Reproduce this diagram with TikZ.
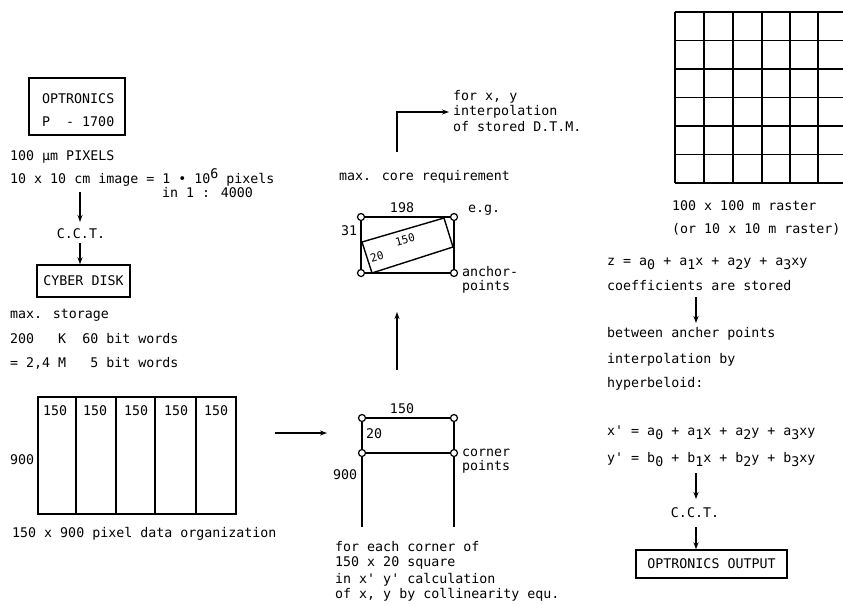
\documentclass[tikz,border=0pt]{standalone}
\usepackage{fontspec}
\usepackage{graphicx}
\newfontfamily\mono{DejaVu Sans Mono}
\usetikzlibrary{arrows.meta}
\newcommand\sbs[1]{\raisebox{-4pt}{#1}}
\newcommand\sps[1]{\raisebox{5pt}{#1}}
\begin{document}
\begin{tikzpicture}[x=1pt,y=-1pt,
  txt/.style={anchor=base west,inner sep=0pt,font=\mono\fontsize{13.3}{16}\selectfont},
  ctxt/.style={txt,anchor=base},
  rtxt/.style={inner sep=0pt,anchor=center,rotate=16,font=\mono\fontsize{11}{13}\selectfont},
  ln/.style={line width=1.4pt},
  arr/.style={line width=1.3pt,-{Stealth[length=7pt,width=5pt]}},
  boxn/.style={draw,line width=1.5pt,inner sep=0pt,font=\mono\fontsize{13.3}{16}\selectfont},
  pnt/.style={circle,draw,fill=white,line width=1.2pt,inner sep=0pt,minimum size=7pt}]
\useasboundingbox (0,0) rectangle (843,603);

% ---- left column
\node[boxn,minimum width=96pt,minimum height=57pt] (opt) at (77,106.5) {};
\node[txt] (opt1) at (42,103) {OPTRONICS};
\node[txt] (opt2) at (42,126) {P\ \ - 1700};
\node[txt] (px) at (10,160) {100 µm PIXELS};
\node[txt] (img) at (10,183) {10 x 10 cm image = 1 • 10\sps{6} pixels};
\node[txt] (scale) at (162,197) {in 1 : 4000};
\coordinate (a1s) at (80,192);
\coordinate (a1e) at (80,222);
\draw[arr] (a1s) -- (a1e);
\node[ctxt] (cct1) at (81,238) {C.C.T.};
\node[boxn,minimum width=93pt,minimum height=32pt] (cyb) at (83.5,281) {CYBER DISK};
\coordinate (a2s) at (80,243);
\draw[arr] (a2s) -- (a2s |- cyb.north);
\node[txt] (ms1) at (10,318) {max. storage};
\node[txt] (ms2) at (10,343) {200\ \ \ K\ \ 60 bit words};
\node[txt] (ms3) at (10,367) {= 2,4 M\ \ \ 5 bit words};

% table
\node[draw,line width=1.5pt,inner sep=0pt,minimum width=198pt,minimum height=117pt] (tbl) at (137,455.5) {};
\foreach \x in {76,116,155,196} \draw[line width=1.4pt] (\x,397) -- (\x,514);
\foreach \x in {43,83,124,164,204} \node[txt] at (\x,415) {150};
\node[txt] (t900) at (10,464) {900};
\node[txt] (tcap) at (12,537) {150 x 900 pixel data organization};

\coordinate (h1) at (275,433);
\coordinate (h2) at (327,433);
\draw[arr] (h1) -- (h2);

% ---- corner diagram
\node[pnt] (c1) at (362,418) {};
\node[pnt] (c2) at (454,418) {};
\node[pnt] (c3) at (362,453) {};
\node[pnt] (c4) at (454,453) {};
\coordinate (c5) at (362,527);
\coordinate (c6) at (454,527);
\draw[ln] (c1) -- (c2) (c3) -- (c4) (c1) -- (c3) (c2) -- (c4) (c3) -- (c5) (c4) -- (c6);
\node[ctxt] (l150) at (402,413) {150};
\node[txt] (l20) at (366,438) {20};
\node[txt] (l900) at (333,479) {900};
\node[txt] (cor1) at (462,456) {corner};
\node[txt] (cor2) at (462,470) {points};
\node[txt] (b1) at (335,551) {for each corner of};
\node[txt] (b2) at (335,566) {150 x 20 square};
\node[txt] (b3) at (335,583) {in x' y' calculation};
\node[txt] (b4) at (335,598) {of x, y by collinearity equ.};

\coordinate (u1) at (397,370);
\coordinate (u2) at (397,312);
\draw[arr] (u1) -- (u2);

% ---- anchor diagram
\node[pnt] (d1) at (361,217) {};
\node[pnt] (d2) at (454,217) {};
\node[pnt] (d3) at (361,273) {};
\node[pnt] (d4) at (454,273) {};
\draw[ln] (d1) -- (d2) -- (d4) -- (d3) -- (d1);
\draw[ln] (362,242) -- (444,218) -- (453,247) -- (372,273) -- cycle;
\node[rtxt] (r150) at (405,240) {150};
\node[rtxt] (r20) at (377,256.5) {20};
\node[ctxt] (l198) at (402,212) {198};
\node[txt] (l31) at (341,235) {31};
\node[txt] (eg) at (468,212) {e.g.};
\node[txt] (an1) at (462,276) {anchor-};
\node[txt] (an2) at (462,290) {points};
\node[txt] (core) at (339,180) {max. core requirement};

\coordinate (k1) at (397,152);
\coordinate (k2) at (397,112);
\coordinate (k3) at (449,112);
\draw[arr] (k1) -- (k2) -- (k3);
\node[txt] (f1) at (453,100) {for x, y};
\node[txt] (f2) at (453,115) {interpolation};
\node[txt] (f3) at (453,131) {of stored D.T.M.};

% ---- grid
\foreach \y in {12,40.5,69,97.5,126,154.5,183} \draw[line width=1.4pt] (675,\y) -- (843,\y);
\foreach \x in {675,704,733,762,790,818} \draw[line width=1.4pt] (\x,12) -- (\x,183);
\node[txt] (r1) at (672,210) {100 x 100 m raster};
\node[txt] (r2) at (672,233) {(or 10 x 10 m raster)};

% ---- right column
\node[txt] (z) at (607,265) {z = a\sbs{0} + a\sbs{1}x + a\sbs{2}y + a\sbs{3}xy};
\node[txt] (coef) at (607,290) {coefficients are stored};
\coordinate (e1) at (696,297);
\coordinate (e2) at (696,323);
\draw[arr] (e1) -- (e2);
\node[txt] (bt1) at (607,337) {between ancher points};
\node[txt] (bt2) at (607,363) {interpolation by};
\node[txt] (bt3) at (607,387) {hyperbeloid:};
\node[txt] (xe) at (607,435) {x' = a\sbs{0} + a\sbs{1}x + a\sbs{2}y + a\sbs{3}xy};
\node[txt] (ye) at (607,462) {y' = b\sbs{0} + b\sbs{1}x + b\sbs{2}y + b\sbs{3}xy};
\coordinate (g1) at (696,473);
\coordinate (g2) at (696,499);
\draw[arr] (g1) -- (g2);
\node[ctxt] (cct2) at (695,517) {C.C.T.};
\node[boxn,minimum width=151pt,minimum height=28pt] (oout) at (711.5,564) {OPTRONICS OUTPUT};
\coordinate (g3) at (696,527);
\draw[arr] (g3) -- (g3 |- oout.north);
\end{tikzpicture}
\end{document}
